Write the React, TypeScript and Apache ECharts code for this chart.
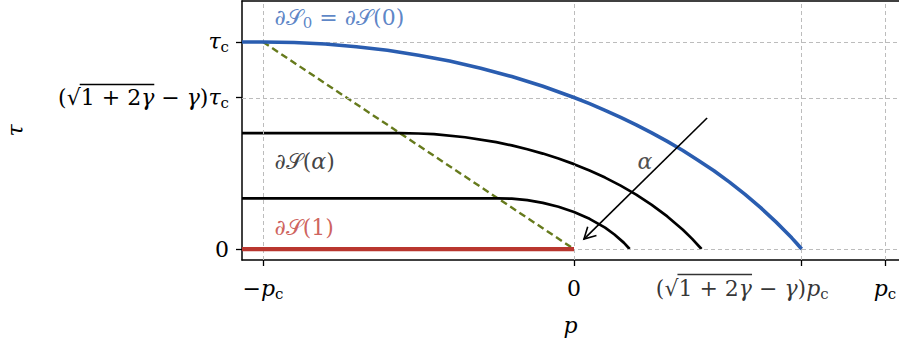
import React, { useEffect, useRef } from "react";
import * as echarts from "echarts";

// Axis extents (units of p_c and tau_c, gamma = 1)
const X_MIN = -1.0675;
const X_MAX = 1.045;
const Y_MIN = -0.053;
const Y_MAX = 1.198;

const K = 0.732; // sqrt(1 + 2*gamma) - gamma for gamma = 1

type Tok = [string, string]; // [rich style, text]

// Tick positions and their labels (the K labels carry a radical with an overline)
const xTicks = [-1, 0, K, 1];
const xTickLabels: Tok[][] = [
  [["r", "−"], ["i", "p"], ["s", "c"]],
  [["r", "0"]],
  [],
  [["i", "p"], ["s", "c"]],
];
const yTicks = [0, K, 1];
const yTickLabels: Tok[][] = [
  [["r", "0"]],
  [],
  [["i", "τ"], ["s", "c"]],
];
const radicand: Tok[] = [["r", "1 + 2"], ["i", "γ"]];
const radicalHead: Tok[] = [["r", "(√"]];
const tailP: Tok[] = [["r", " − "], ["i", "γ"], ["r", ")"], ["i", "p"], ["s", "c"]];
const tailTau: Tok[] = [["r", " − "], ["i", "γ"], ["r", ")"], ["i", "τ"], ["s", "c"]];

// Boundary ∂S(0): flat at tau_c, then the arc down to (√3−1)p_c
const boundary0: [number, number][] = [
  [-1.0675, 1], [-1, 1], [-0.9, 0.9975], [-0.8, 0.99], [-0.7, 0.977],
  [-0.6, 0.96], [-0.5, 0.936], [-0.4, 0.908], [-0.3, 0.873], [-0.2, 0.833],
  [-0.1, 0.786], [0, 0.732], [0.05, 0.702], [0.1, 0.67], [0.15, 0.636],
  [0.2, 0.6], [0.25, 0.561], [0.3, 0.52], [0.35, 0.476], [0.4, 0.428],
  [0.45, 0.378], [0.5, 0.323], [0.55, 0.264], [0.6, 0.2], [0.65, 0.13],
  [0.68, 0.085], [0.7, 0.054], [0.715, 0.029], [0.732, 0],
];

// Intermediate boundary ∂S(α), upper
const boundaryUpper: [number, number][] = [
  [-1.0675, 0.56], [-0.56, 0.56], [-0.5, 0.558], [-0.45, 0.555],
  [-0.35, 0.54], [-0.25, 0.516], [-0.2, 0.5006], [-0.15, 0.482],
  [-0.1, 0.461], [-0.05, 0.437], [0, 0.41], [0.05, 0.379], [0.1, 0.345],
  [0.15, 0.306], [0.2, 0.263], [0.25, 0.2135], [0.3, 0.1575],
  [0.35, 0.093], [0.38, 0.049], [0.41, 0],
];

// Intermediate boundary ∂S(α), lower
const boundaryLower: [number, number][] = [
  [-1.0675, 0.245], [-0.245, 0.245], [-0.2, 0.243], [-0.15, 0.236],
  [-0.1, 0.223], [-0.05, 0.2045], [0, 0.179], [0.05, 0.146], [0.1, 0.103],
  [0.13, 0.07], [0.16, 0.031], [0.179, 0],
];

// Boundary ∂S(1): the segment tau = 0, p <= 0
const boundary1: [number, number][] = [
  [-1.0675, 0], [0, 0],
];

// Diagonal guide through the corners of the boundaries
const diagonal: [number, number][] = [
  [-1, 1], [0, 0],
];

// Arrow showing increasing α: [p0, tau0, p1, tau1]
const alphaArrow: [number, number, number, number][] = [
  [0.428, 0.633, 0.032, 0.048],
];

const SERIF = "'DejaVu Serif', 'Liberation Serif', serif";
const FS = 22;
const SUB = 15;
const LH = 26;

const fontOf: Record<string, string> = {
  r: `${FS}px ${SERIF}`,
  i: `italic ${FS}px ${SERIF}`,
  s: `${SUB}px ${SERIF}`,
};

// Curve annotations
const curveLabels: { p: number; tau: number; text: string; color: string }[] = [
  { p: -0.965, tau: 1.116, text: "{i|∂}{r|𝒮}{s|0}{r| = }{i|∂}{r|𝒮}{r|(0)}", color: "#3366b8" },
  { p: -0.965, tau: 0.425, text: "{i|∂}{r|𝒮}{r|(}{i|α}{r|)}", color: "#111111" },
  { p: -0.965, tau: 0.106, text: "{i|∂}{r|𝒮}{r|(1)}", color: "#c23a34" },
];
const alphaLabel = { p: 0.228, tau: 0.425, text: "{i|α}" };

const toRich = (toks: Tok[]) => toks.map(([k, t]) => `{${k}|${t}}`).join("");

function pickLabel(v: number, ticks: number[], labels: string[]) {
  const idx = ticks.findIndex((t) => Math.abs(t - v) < 1e-6);
  return idx >= 0 ? labels[idx] : "";
}

export default function App() {
  const ref = useRef<HTMLDivElement>(null);

  useEffect(() => {
    if (!ref.current) return;

    // text widths, used to place the vinculum over the radicand
    const ctx = document.createElement("canvas").getContext("2d")!;
    const width = (toks: Tok[]) =>
      toks.reduce((w, [k, t]) => {
        ctx.font = fontOf[k];
        return w + ctx.measureText(t).width;
      }, 0);
    const barW = width(radicand) + 1;
    const gapP = width(tailP);
    const gapT = width(tailTau);

    const rich: any = {
      r: { fontFamily: SERIF, fontSize: FS, lineHeight: LH },
      i: { fontFamily: SERIF, fontSize: FS, fontStyle: "italic", lineHeight: LH },
      s: { fontFamily: SERIF, fontSize: SUB, lineHeight: 16, verticalAlign: "bottom" },
      bar: { fontSize: 1, width: barW, height: 1.3, lineHeight: 1, backgroundColor: "#000" },
      gp: { fontSize: 1, width: gapP, height: 1, lineHeight: 1 },
      gt: { fontSize: 1, width: gapT, height: 1, lineHeight: 1 },
    };

    const radicalLabel = (tail: Tok[], gap: string) =>
      `{bar| }{${gap}| }\n` + toRich(radicalHead) + toRich(radicand) + toRich(tail);

    const xLabels = xTickLabels.map(toRich);
    const yLabels = yTickLabels.map(toRich);
    yLabels[1] = radicalLabel(tailTau, "gt");
    const kxLabel = radicalLabel(tailP, "gp");

    const baseText = { fontFamily: SERIF, fontSize: FS, lineHeight: LH };

    const chart = echarts.init(ref.current, undefined, { renderer: "svg" });
    const axisLine = { show: true, onZero: false, lineStyle: { color: "#000", width: 1.5 } };

    chart.setOption({
      animation: false,
      backgroundColor: "#ffffff",
      grid: { left: 242, right: 0, top: 1, bottom: 83, outerBoundsMode: "none", containLabel: false },
      xAxis: [
        {
          type: "value",
          min: X_MIN,
          max: X_MAX,
          position: "bottom",
          axisLine,
          splitLine: { show: false },
          axisTick: { show: true, customValues: xTicks, length: 6, lineStyle: { color: "#000", width: 1.3 } },
          axisLabel: {
            show: true,
            customValues: xTicks,
            margin: 15,
            color: "#000",
            hideOverlap: false,
            ...baseText,
            formatter: (v: number) => pickLabel(v, xTicks, xLabels),
            rich,
          },
          name: "{i|p}",
          nameLocation: "middle",
          nameGap: 52,
          nameTextStyle: { color: "#000", ...baseText, rich },
        },
        {
          type: "value",
          min: X_MIN,
          max: X_MAX,
          position: "top",
          axisLine,
          axisTick: { show: false },
          axisLabel: { show: false },
          splitLine: { show: false },
        },
      ],
      yAxis: {
        type: "value",
        min: Y_MIN,
        max: Y_MAX,
        axisLine,
        splitLine: { show: false },
        axisTick: { show: true, customValues: yTicks, length: 6, lineStyle: { color: "#000", width: 1.3 } },
        axisLabel: {
          show: true,
          customValues: yTicks,
          margin: 13,
          color: "#000",
          ...baseText,
          formatter: (v: number) => pickLabel(v, yTicks, yLabels),
          rich,
        },
        name: "{i|τ}",
        nameLocation: "middle",
        nameRotate: 90,
        nameGap: 214,
        nameTextStyle: { color: "#000", ...baseText, rich },
      },
      series: [
        {
          // dashed grid at the tick positions
          type: "line",
          data: [],
          z: 1,
          markLine: {
            silent: true,
            symbol: "none",
            label: { show: false },
            lineStyle: { color: "#bcbcbc", width: 1, type: [4, 3] },
            data: [
              ...xTicks.map((v) => ({ xAxis: v })),
              ...yTicks.map((v) => ({ yAxis: v })),
            ],
          },
        },
        {
          type: "line",
          data: diagonal,
          showSymbol: false,
          z: 3,
          lineStyle: { color: "#667a1c", width: 2.4, type: [7, 4] },
        },
        {
          type: "line",
          data: boundaryUpper,
          showSymbol: false,
          z: 4,
          lineStyle: { color: "#000", width: 2.7 },
        },
        {
          type: "line",
          data: boundaryLower,
          showSymbol: false,
          z: 4,
          lineStyle: { color: "#000", width: 2.7 },
        },
        {
          type: "line",
          data: boundary1,
          showSymbol: false,
          z: 5,
          lineStyle: { color: "#b9362f", width: 4.2 },
        },
        {
          type: "line",
          data: boundary0,
          showSymbol: false,
          z: 5,
          lineStyle: { color: "#2a5db0", width: 3.6 },
        },
        {
          type: "custom",
          z: 6,
          data: alphaArrow,
          renderItem: (_params: any, api: any) => {
            const a = api.coord([api.value(0), api.value(1)]);
            const b = api.coord([api.value(2), api.value(3)]);
            const ang = Math.atan2(b[1] - a[1], b[0] - a[0]);
            const L = 13;
            const w = 0.5;
            const h1 = [b[0] - L * Math.cos(ang - w), b[1] - L * Math.sin(ang - w)];
            const h2 = [b[0] - L * Math.cos(ang + w), b[1] - L * Math.sin(ang + w)];
            return {
              type: "group",
              children: [
                { type: "line", shape: { x1: a[0], y1: a[1], x2: b[0], y2: b[1] }, style: { stroke: "#000", lineWidth: 1.6 } },
                { type: "polyline", shape: { points: [h1, b, h2] }, style: { stroke: "#000", lineWidth: 1.6, fill: null } },
              ],
            };
          },
        },
        {
          type: "scatter",
          z: 7,
          symbolSize: 1,
          clip: false,
          itemStyle: { color: "rgba(0,0,0,0)" },
          silent: true,
          data: [
            ...curveLabels.map((l) => ({
              value: [l.p, l.tau],
              label: {
                show: true,
                position: "right",
                distance: 0,
                color: l.color,
                ...baseText,
                formatter: l.text,
                rich,
              },
            })),
            {
              value: [alphaLabel.p, alphaLabel.tau],
              label: {
                show: true,
                position: "inside",
                color: "#222",
                ...baseText,
                formatter: alphaLabel.text,
                rich,
              },
            },
            {
              // tick label of (√(1+2γ) − γ)p_c, set to the left of its tick
              value: [K, Y_MIN],
              label: {
                show: true,
                position: "inside",
                align: "right",
                verticalAlign: "top",
                offset: [27, 14],
                color: "#000",
                ...baseText,
                formatter: kxLabel,
                rich,
              },
            },
          ],
        },
      ],
    });

    return () => chart.dispose();
  }, []);

  return (
    <div
      ref={ref}
      style={{ position: "fixed", left: 0, top: 0, width: 899, height: 343 }}
    />
  );
}
